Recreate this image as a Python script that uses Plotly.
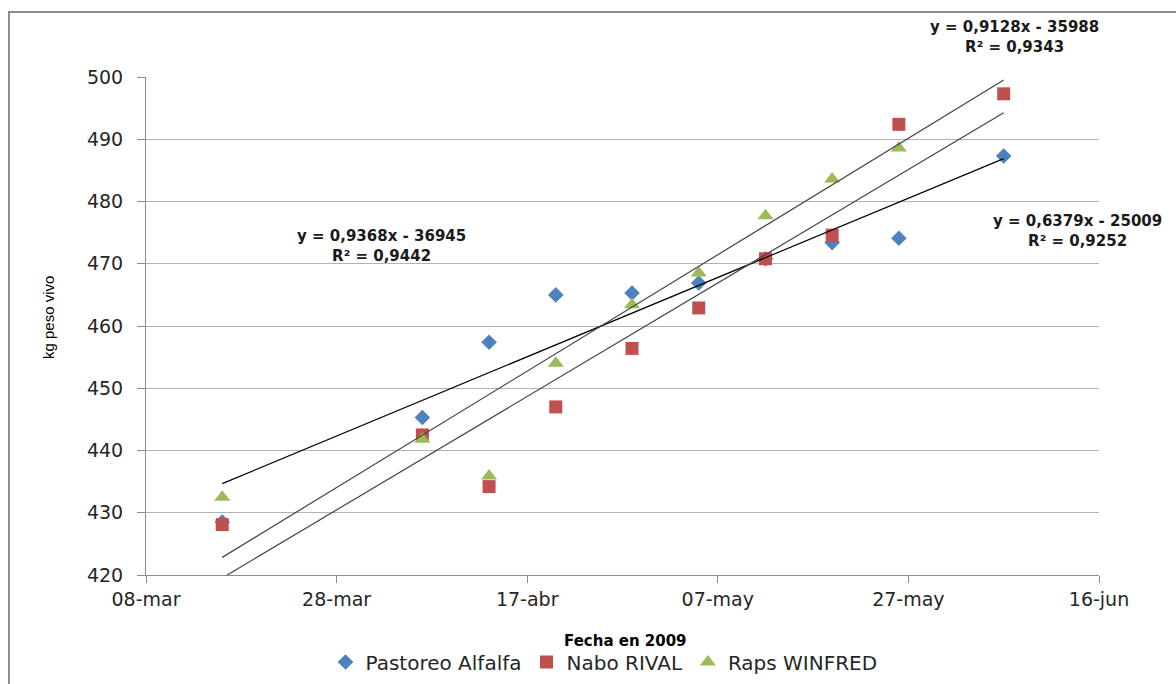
import numpy as np
import pandas as pd
import plotly.graph_objects as go

# ---- data ----
fechas = ["2009-03-16", "2009-04-06", "2009-04-13", "2009-04-20", "2009-04-28",
          "2009-05-05", "2009-05-12", "2009-05-19", "2009-05-26", "2009-06-06"]
pastoreo_alfalfa = [428.5, 445.3, 457.4, 465.0, 465.3, 466.9, 470.8, 473.4, 474.1, 487.3]
nabo_rival = [428.1, 442.5, 434.2, 447.0, 456.4, 462.9, 470.8, 474.6, 492.4, 497.3]
raps_winfred = [432.5, 441.8, 435.9, 454.0, 463.4, 468.5, 477.7, 483.6, 488.6, 504.0]

series_names = ["Pastoreo Alfalfa", "Nabo RIVAL", "Raps WINFRED"]
series_colors = ["#4F81BD", "#C0504D", "#9BBB59"]
series_symbols = ["diamond", "square", "triangle-up"]
series_sizes = [12, 13, 14]
trend_colors = ["#000000", "#444444", "#444444"]

tick_vals = ["2009-03-08", "2009-03-28", "2009-04-17", "2009-05-07", "2009-05-27", "2009-06-16"]
tick_text = ["08-mar", "28-mar", "17-abr", "07-may", "27-may", "16-jun"]

eq_labels = [
    "y = 0,6379x - 25009<br>R² = 0,9252",
    "y = 0,9128x - 35988<br>R² = 0,9343",
    "y = 0,9368x - 36945<br>R² = 0,9442",
]

# ---- figure ----
fig = go.Figure()
dates = pd.to_datetime(fechas)
days = np.array([(d - dates[0]).days for d in dates], dtype=float)

all_vals = [pastoreo_alfalfa, nabo_rival, raps_winfred]
for name, vals, col, sym, sz in zip(series_names, all_vals, series_colors, series_symbols, series_sizes):
    fig.add_trace(go.Scatter(x=fechas, y=vals, mode="markers", name=name,
                             marker=dict(symbol=sym, size=sz, color=col, line=dict(width=0))))

for vals, tc in zip(all_vals, trend_colors):
    m, b = np.polyfit(days, np.array(vals), 1)
    xs = [fechas[0], fechas[-1]]
    ys = [b + m * days[0], b + m * days[-1]]
    fig.add_trace(go.Scatter(x=xs, y=ys, mode="lines", showlegend=False, hoverinfo="skip",
                             line=dict(color=tc, width=1.2)))

L, R, T, B = 146, 1099, 77, 575
W, H = 1176, 684
pw, ph = R - L, B - T


def px(x):
    return (x - L) / pw


def py(y):
    return (B - y) / ph


eq_pos = [(1077, 231), (1014, 37), (381, 246)]
annotations = []
for txt, (ax, ay) in zip(eq_labels, eq_pos):
    annotations.append(dict(xref="paper", yref="paper", x=px(ax), y=py(ay), text=txt,
                            showarrow=False, xanchor="center", yanchor="middle", align="center",
                            font=dict(family="DejaVu Sans", size=15, color="#1a1a1a", weight="bold")))

annotations.append(dict(xref="paper", yref="paper", x=px(48), y=py(318), text="kg peso vivo",
                        textangle=-90, showarrow=False, xanchor="center", yanchor="middle",
                        font=dict(family="Liberation Sans Narrow, Liberation Sans", size=15, color="#000000")))
annotations.append(dict(xref="paper", yref="paper", x=px(625), y=py(641), text="<b>Fecha en 2009</b>",
                        showarrow=False, xanchor="center", yanchor="middle",
                        font=dict(family="DejaVu Sans", size=15, color="#000000")))

fig.update_layout(
    width=W, height=H,
    margin=dict(l=L, r=W - R, t=T, b=H - B, autoexpand=False),
    paper_bgcolor="white", plot_bgcolor="white",
    font=dict(family="DejaVu Sans", size=19, color="#262626"),
    showlegend=True,
    legend=dict(orientation="h", x=px(604), y=py(662), xanchor="center", yanchor="middle",
                font=dict(family="DejaVu Sans", size=20, color="#262626"),
                itemwidth=30, tracegroupgap=0, bgcolor="rgba(0,0,0,0)"),
    annotations=annotations,
    shapes=[dict(type="rect", xref="paper", yref="paper",
                 x0=px(9), x1=px(1185), y0=py(695), y1=py(12),
                 line=dict(color="#8c8c8c", width=2), fillcolor="rgba(0,0,0,0)", layer="below")],
)

fig.update_xaxes(type="date", range=["2009-03-08", "2009-06-16"], tickvals=tick_vals, ticktext=tick_text,
                 showgrid=False, zeroline=False, showline=True, linecolor="#8c8c8c", linewidth=1,
                 ticks="outside", ticklen=7, tickcolor="#8c8c8c",
                 tickfont=dict(family="DejaVu Sans", size=19, color="#262626"))
fig.update_yaxes(range=[420, 500], dtick=10, tick0=420, showgrid=True, gridcolor="#b3b3b3", gridwidth=1,
                 zeroline=False, showline=True, linecolor="#8c8c8c", linewidth=1,
                 ticks="outside", ticklen=8, tickcolor="#8c8c8c", ticklabelstandoff=10,
                 tickfont=dict(family="DejaVu Sans", size=19, color="#262626"))

fig.write_html("out.html", config={"displayModeBar": False},
               post_script="document.body.style.margin='0';document.body.style.overflow='hidden';")
